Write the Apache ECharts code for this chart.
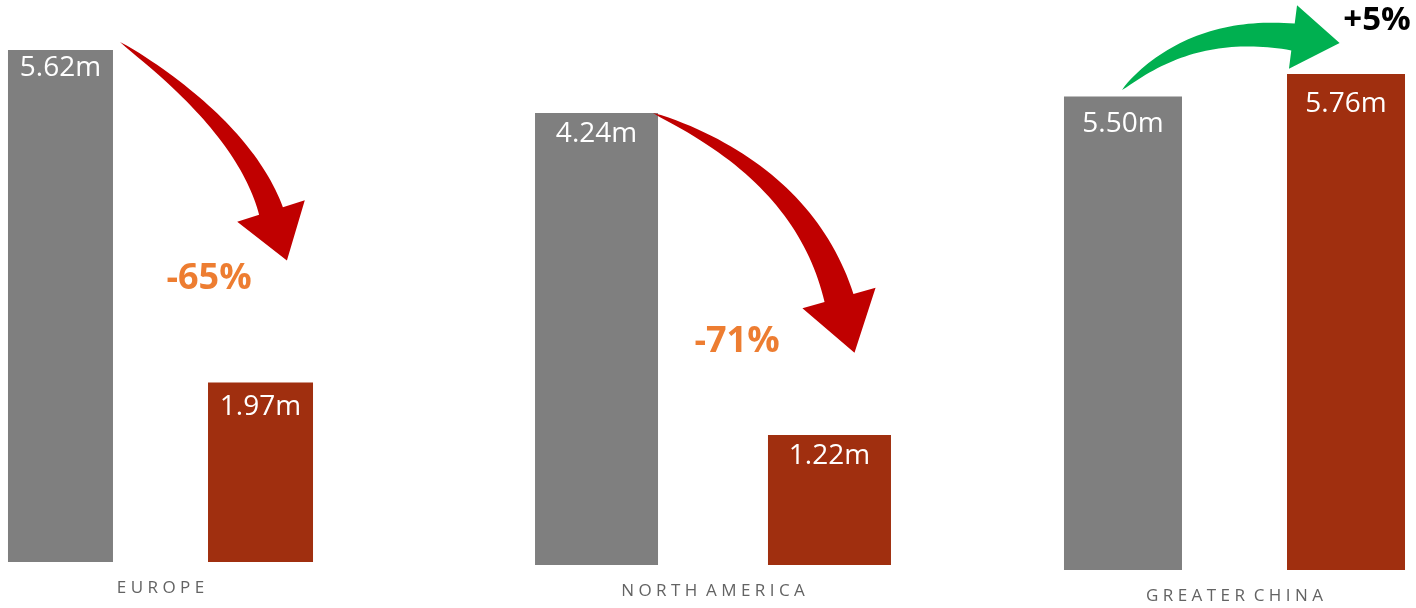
<!DOCTYPE html>
<html><head><meta charset="utf-8">
<script src="https://cdn.jsdelivr.net/npm/echarts@6/dist/echarts.min.js"></script>
<style>html,body{margin:0;padding:0;background:#fff}#c{width:1416px;height:608px}</style>
</head><body><div id="c"></div>
<script>
// ---- data ----
const regions = ['EUROPE', 'NORTH AMERICA', 'GREATER CHINA'];
const beforeValues = [5.62, 4.24, 5.50];
const afterValues = [1.97, 1.22, 5.76];
const changeLabels = ['-65%', '-71%', '+5%'];

// ---- layout / style ----
const panels = [
  {center: 160.5, width: 321, top: 50, bottom: 46, barWidth: 105, barGap: '90.5%', distB: 4, distA: 11},
  {center: 713, width: 380, top: 113, bottom: 43, barWidth: 123, barGap: '89.4%', distB: 7, distA: 7},
  {center: 1234.5, width: 360, top: 74, bottom: 38, barWidth: 118, barGap: '89%', distB: 14, distA: 16}
];
const changeStyle = [
  {x: 209, y: 279, color: '#ED7D31', size: 36},
  {x: 737, y: 342, color: '#ED7D31', size: 36},
  {x: 1377, y: 21, color: '#000000', size: 33}
];
const arrowGeom = [
  {p0: [120, 42], c: [244, 127], p1: [271, 211], w: 25, headW: 71, headL: 52, color: '#C00000'},
  {p0: [653, 113], c: [804, 174], p1: [839, 298], w: 30, headW: 76, headL: 57, color: '#C00000'},
  {p0: [1122, 90], c: [1191, 24], p1: [1293, 37], w: 27, headW: 64, headL: 47, color: '#00B050'}
];
const GRAY = '#7F7F7F', RED = '#A02F0F';
const FONT = '"Open Sans", "Noto Sans", sans-serif';

function spaced(s) {
  return s.split(' ').map(w => w.split('').join(' ')).join('  ');
}

function curvedArrow(g) {
  const N = 40, left = [], right = [];
  let tx = 0, ty = 0;
  for (let i = 0; i <= N; i++) {
    const t = i / N, u = 1 - t;
    const bx = u * u * g.p0[0] + 2 * u * t * g.c[0] + t * t * g.p1[0];
    const by = u * u * g.p0[1] + 2 * u * t * g.c[1] + t * t * g.p1[1];
    let dx = 2 * u * (g.c[0] - g.p0[0]) + 2 * t * (g.p1[0] - g.c[0]);
    let dy = 2 * u * (g.c[1] - g.p0[1]) + 2 * t * (g.p1[1] - g.c[1]);
    const L = Math.hypot(dx, dy); dx /= L; dy /= L;
    tx = dx; ty = dy;
    const nx = -dy, ny = dx;
    const hw = g.w * Math.pow(t, 0.7) / 2;
    left.push([bx + nx * hw, by + ny * hw]);
    right.push([bx - nx * hw, by - ny * hw]);
  }
  const nx = -ty, ny = tx;
  const P = g.p1;
  const headLeft = [P[0] + nx * g.headW / 2, P[1] + ny * g.headW / 2];
  const headRight = [P[0] - nx * g.headW / 2, P[1] - ny * g.headW / 2];
  const tip = [P[0] + tx * g.headL, P[1] + ty * g.headL];
  return left.concat([headLeft, tip, headRight], right.reverse());
}

const grids = [], xAxes = [], yAxes = [], series = [];
regions.forEach((r, i) => {
  const p = panels[i];
  grids.push({left: p.center - p.width / 2, width: p.width, top: p.top, bottom: p.bottom, containLabel: false});
  xAxes.push({
    type: 'category', gridIndex: i, data: [r],
    axisLine: {show: false}, axisTick: {show: false}, splitLine: {show: false},
    axisLabel: {formatter: spaced, color: '#636363', fontSize: 17, fontFamily: FONT, margin: 18}
  });
  yAxes.push({
    type: 'value', gridIndex: i, min: 0, max: Math.max(beforeValues[i], afterValues[i]),
    show: false, splitLine: {show: false}
  });
  const lbl = (d) => ({
    show: true, position: 'insideTop', distance: d, color: '#FFFFFF',
    fontSize: 28, fontFamily: FONT, formatter: (o) => o.value.toFixed(2) + 'm'
  });
  series.push({
    type: 'bar', name: 'before', xAxisIndex: i, yAxisIndex: i,
    data: [beforeValues[i]], barWidth: p.barWidth, barGap: p.barGap,
    itemStyle: {color: GRAY}, label: lbl(p.distB), silent: true, animation: false
  });
  series.push({
    type: 'bar', name: 'after', xAxisIndex: i, yAxisIndex: i,
    data: [afterValues[i]], barWidth: p.barWidth, barGap: p.barGap,
    itemStyle: {color: RED}, label: lbl(p.distA), silent: true, animation: false
  });
});

const graphics = [];
arrowGeom.forEach(g => {
  graphics.push({type: 'polygon', z: 10, shape: {points: curvedArrow(g)}, style: {fill: g.color}, silent: true});
});
changeLabels.forEach((t, i) => {
  const s = changeStyle[i];
  graphics.push({
    type: 'text', z: 11, x: s.x, y: s.y,
    style: {text: t, fill: s.color, fontSize: s.size, fontWeight: 'bold', fontFamily: FONT,
            textAlign: 'center', textVerticalAlign: 'middle', align: 'center', verticalAlign: 'middle'}
  });
});

const chart = echarts.init(document.getElementById('c'), null, {renderer: 'canvas'});
chart.setOption({
  backgroundColor: '#FFFFFF',
  animation: false,
  grid: grids, xAxis: xAxes, yAxis: yAxes, series: series,
  graphic: graphics
});
</script>
</body></html>
